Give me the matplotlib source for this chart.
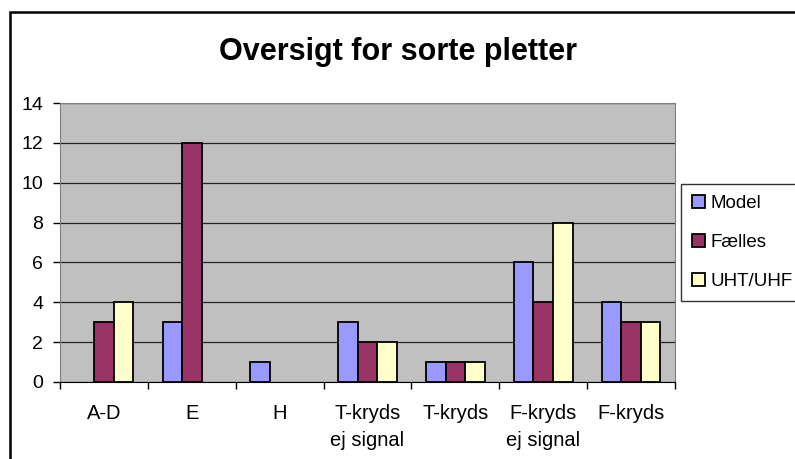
import numpy as np
import matplotlib.pyplot as plt
from matplotlib.patches import Rectangle, Patch

# data
categories = ["A-D", "E", "H", "T-kryds\nej signal", "T-kryds", "F-kryds\nej signal", "F-kryds"]
model = [0, 3, 1, 3, 1, 6, 4]
faelles = [3, 12, 0, 2, 1, 4, 3]
uht_uhf = [4, 0, 0, 2, 1, 8, 3]

series = [("Model", model, "#9999FF"),
          ("Fælles", faelles, "#993366"),
          ("UHT/UHF", uht_uhf, "#FFFFCC")]

plt.rcParams["font.family"] = ["Liberation Sans", "DejaVu Sans"]

W, H = 795, 459
fig = plt.figure(figsize=(W / 100, H / 100), dpi=100)
ax = fig.add_axes([60 / W, 1 - 382 / H, 615 / W, 279 / H])

# outer chart frame (runs off the right/bottom edge like the screenshot)
fig.patches.append(Rectangle((10 / W, -0.1), 1.2, 1 - 12 / H + 0.1,
                             transform=fig.transFigure, fill=False,
                             edgecolor="black", linewidth=1.8, zorder=0))

x = np.arange(len(categories))
bw = 1 / 4.5
handles = []
for i, (name, vals, col) in enumerate(series):
    b = ax.bar(x + (i - 1) * bw, vals, bw, color=col, edgecolor="black",
               linewidth=1.3, zorder=3)
    # Excel draws nothing for zero values
    for rect, v in zip(b.patches, vals):
        if v == 0:
            rect.set_visible(False)
    handles.append(Patch(facecolor=col, edgecolor="black", linewidth=1.3, label=name))

ax.set_facecolor("#C0C0C0")
ax.set_xlim(-0.5, len(categories) - 0.5)
ax.set_ylim(0, 14)
ax.set_yticks(range(0, 15, 2))
ax.tick_params(axis="y", labelsize=14, length=5, width=1, direction="out", pad=7)
ax.yaxis.grid(True, color="#222222", linewidth=0.9, zorder=1)
ax.set_axisbelow(True)

ax.set_xticks(np.arange(-0.5, len(categories), 1))
ax.set_xticklabels([])
ax.set_xticks(x, minor=True)
ax.set_xticklabels(categories, minor=True, fontsize=14.5, linespacing=1.5)
ax.tick_params(axis="x", which="major", length=5, width=1, direction="out")
ax.tick_params(axis="x", which="minor", length=0, pad=16)
for lbl in ax.get_xticklabels(minor=True):
    lbl.set_verticalalignment("top")

for side in ["top", "right"]:
    ax.spines[side].set_color("#808080")
ax.spines["left"].set_color("#808080")
ax.spines["bottom"].set_color("black")

fig.text(398 / W, 1 - 52 / H, "Oversigt for sorte pletter", ha="center",
         va="center", fontsize=22, fontweight="bold")

leg = fig.legend(handles=handles, loc="upper left",
                 bbox_to_anchor=(681 / W, 1 - 184 / H), fontsize=13.5,
                 frameon=True, fancybox=False, edgecolor="black",
                 handlelength=0.7, handleheight=0.7, handletextpad=0.25,
                 labelspacing=1.15, borderpad=0.6, borderaxespad=0)
leg.get_frame().set_linewidth(1.0)

fig.savefig("out.png", dpi=100)
